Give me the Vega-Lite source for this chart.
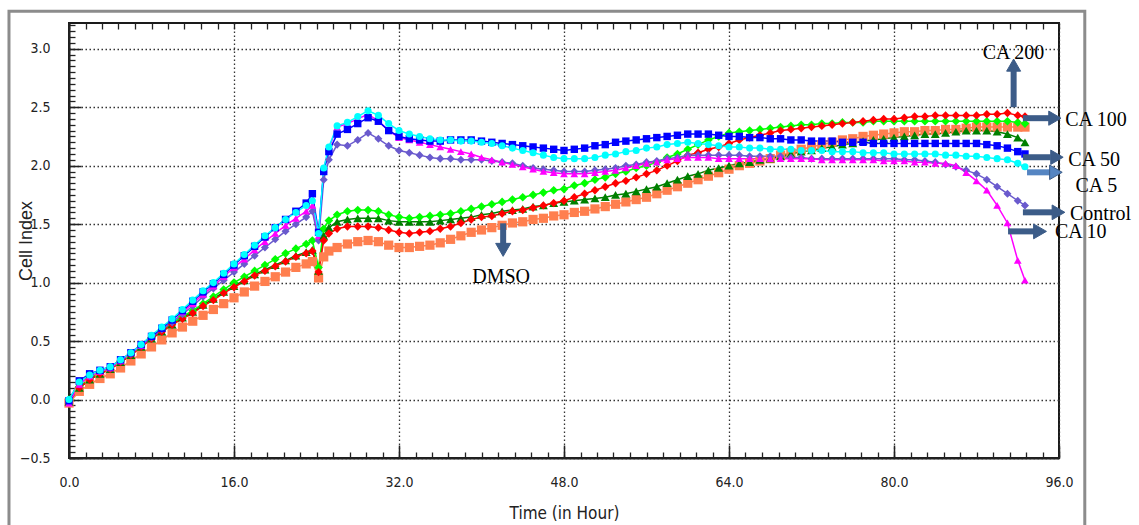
{
  "$schema": "https://vega.github.io/schema/vega-lite/v6.json",
  "width": 990,
  "height": 435,
  "autosize": {"type": "none"},
  "padding": {"left": 69, "top": 23, "right": 80, "bottom": 67},
  "background": "white",
  "config": {
    "view": {"stroke": "#1a1a1a", "strokeWidth": 2},
    "axis": {
      "labelFont": "Liberation Sans Narrow, DejaVu Sans Condensed, Liberation Sans, sans-serif",
      "labelFontSize": 14,
      "labelColor": "#222222",
      "titleColor": "#222222",
      "tickColor": "#222222",
      "domainColor": "#222222",
      "labelFlush": false,
      "labelOverlap": false
    }
  },
  "datasets": {
    "curves": [
      {"t":0,"cyan":0.00,"blue":-0.01,"magenta":-0.03,"slateblue":-0.01,"lime":0.00,"darkgreen":-0.02,"red":-0.01,"orange":-0.03},
      {"t":1,"cyan":0.15,"blue":0.16,"magenta":0.13,"slateblue":0.13,"lime":0.11,"darkgreen":0.10,"red":0.10,"orange":0.07},
      {"t":2,"cyan":0.21,"blue":0.22,"magenta":0.20,"slateblue":0.20,"lime":0.18,"darkgreen":0.17,"red":0.17,"orange":0.13},
      {"t":3,"cyan":0.25,"blue":0.25,"magenta":0.24,"slateblue":0.24,"lime":0.23,"darkgreen":0.22,"red":0.22,"orange":0.18},
      {"t":4,"cyan":0.28,"blue":0.28,"magenta":0.27,"slateblue":0.27,"lime":0.27,"darkgreen":0.26,"red":0.26,"orange":0.22},
      {"t":5,"cyan":0.34,"blue":0.34,"magenta":0.33,"slateblue":0.33,"lime":0.33,"darkgreen":0.32,"red":0.32,"orange":0.27},
      {"t":6,"cyan":0.40,"blue":0.40,"magenta":0.40,"slateblue":0.39,"lime":0.39,"darkgreen":0.38,"red":0.38,"orange":0.33},
      {"t":7,"cyan":0.47,"blue":0.47,"magenta":0.46,"slateblue":0.46,"lime":0.46,"darkgreen":0.45,"red":0.45,"orange":0.39},
      {"t":8,"cyan":0.55,"blue":0.54,"magenta":0.54,"slateblue":0.53,"lime":0.53,"darkgreen":0.52,"red":0.52,"orange":0.45},
      {"t":9,"cyan":0.62,"blue":0.61,"magenta":0.61,"slateblue":0.60,"lime":0.59,"darkgreen":0.58,"red":0.58,"orange":0.51},
      {"t":10,"cyan":0.69,"blue":0.68,"magenta":0.68,"slateblue":0.66,"lime":0.65,"darkgreen":0.64,"red":0.64,"orange":0.57},
      {"t":11,"cyan":0.77,"blue":0.76,"magenta":0.75,"slateblue":0.73,"lime":0.71,"darkgreen":0.70,"red":0.69,"orange":0.62},
      {"t":12,"cyan":0.85,"blue":0.84,"magenta":0.82,"slateblue":0.80,"lime":0.76,"darkgreen":0.75,"red":0.74,"orange":0.67},
      {"t":13,"cyan":0.93,"blue":0.92,"magenta":0.90,"slateblue":0.88,"lime":0.82,"darkgreen":0.81,"red":0.80,"orange":0.72},
      {"t":14,"cyan":1.00,"blue":0.99,"magenta":0.97,"slateblue":0.95,"lime":0.88,"darkgreen":0.86,"red":0.85,"orange":0.77},
      {"t":15,"cyan":1.08,"blue":1.07,"magenta":1.05,"slateblue":1.02,"lime":0.94,"darkgreen":0.92,"red":0.91,"orange":0.82},
      {"t":16,"cyan":1.16,"blue":1.15,"magenta":1.13,"slateblue":1.09,"lime":1.00,"darkgreen":0.97,"red":0.96,"orange":0.87},
      {"t":17,"cyan":1.24,"blue":1.23,"magenta":1.20,"slateblue":1.16,"lime":1.05,"darkgreen":1.02,"red":1.01,"orange":0.92},
      {"t":18,"cyan":1.32,"blue":1.31,"magenta":1.28,"slateblue":1.23,"lime":1.10,"darkgreen":1.07,"red":1.06,"orange":0.97},
      {"t":19,"cyan":1.40,"blue":1.39,"magenta":1.35,"slateblue":1.30,"lime":1.15,"darkgreen":1.11,"red":1.10,"orange":1.01},
      {"t":20,"cyan":1.47,"blue":1.47,"magenta":1.42,"slateblue":1.37,"lime":1.20,"darkgreen":1.15,"red":1.14,"orange":1.05},
      {"t":21,"cyan":1.54,"blue":1.54,"magenta":1.49,"slateblue":1.44,"lime":1.25,"darkgreen":1.19,"red":1.18,"orange":1.09},
      {"t":22,"cyan":1.60,"blue":1.61,"magenta":1.55,"slateblue":1.50,"lime":1.29,"darkgreen":1.23,"red":1.22,"orange":1.13},
      {"t":23,"cyan":1.66,"blue":1.68,"magenta":1.61,"slateblue":1.56,"lime":1.33,"darkgreen":1.26,"red":1.25,"orange":1.16},
      {"t":23.6,"cyan":1.70,"blue":1.76,"magenta":1.66,"slateblue":1.61,"lime":1.36,"darkgreen":1.28,"red":1.27,"orange":1.18},
      {"t":24.2,"cyan":1.42,"blue":1.43,"magenta":1.40,"slateblue":1.36,"lime":1.13,"darkgreen":1.10,"red":1.09,"orange":1.04},
      {"t":24.7,"cyan":1.98,"blue":1.95,"magenta":1.97,"slateblue":1.88,"lime":1.46,"darkgreen":1.40,"red":1.36,"orange":1.22},
      {"t":25.2,"cyan":2.16,"blue":2.12,"magenta":2.15,"slateblue":2.05,"lime":1.53,"darkgreen":1.47,"red":1.42,"orange":1.27},
      {"t":26,"cyan":2.34,"blue":2.27,"magenta":2.33,"slateblue":2.18,"lime":1.58,"darkgreen":1.52,"red":1.46,"orange":1.30},
      {"t":27,"cyan":2.37,"blue":2.31,"magenta":2.36,"slateblue":2.17,"lime":1.61,"darkgreen":1.54,"red":1.48,"orange":1.33},
      {"t":28,"cyan":2.42,"blue":2.36,"magenta":2.40,"slateblue":2.22,"lime":1.62,"darkgreen":1.55,"red":1.48,"orange":1.35},
      {"t":29,"cyan":2.47,"blue":2.41,"magenta":2.44,"slateblue":2.28,"lime":1.62,"darkgreen":1.55,"red":1.48,"orange":1.36},
      {"t":30,"cyan":2.43,"blue":2.38,"magenta":2.38,"slateblue":2.23,"lime":1.61,"darkgreen":1.55,"red":1.47,"orange":1.35},
      {"t":31,"cyan":2.36,"blue":2.30,"magenta":2.30,"slateblue":2.17,"lime":1.58,"darkgreen":1.53,"red":1.45,"orange":1.32},
      {"t":32,"cyan":2.30,"blue":2.25,"magenta":2.24,"slateblue":2.13,"lime":1.56,"darkgreen":1.52,"red":1.43,"orange":1.30},
      {"t":33,"cyan":2.27,"blue":2.23,"magenta":2.22,"slateblue":2.11,"lime":1.55,"darkgreen":1.52,"red":1.42,"orange":1.30},
      {"t":34,"cyan":2.25,"blue":2.22,"magenta":2.20,"slateblue":2.09,"lime":1.56,"darkgreen":1.52,"red":1.43,"orange":1.31},
      {"t":35,"cyan":2.23,"blue":2.21,"magenta":2.18,"slateblue":2.07,"lime":1.57,"darkgreen":1.52,"red":1.44,"orange":1.32},
      {"t":36,"cyan":2.22,"blue":2.21,"magenta":2.16,"slateblue":2.06,"lime":1.58,"darkgreen":1.53,"red":1.46,"orange":1.34},
      {"t":37,"cyan":2.22,"blue":2.22,"magenta":2.14,"slateblue":2.06,"lime":1.59,"darkgreen":1.54,"red":1.48,"orange":1.37},
      {"t":38,"cyan":2.21,"blue":2.22,"magenta":2.12,"slateblue":2.05,"lime":1.61,"darkgreen":1.55,"red":1.51,"orange":1.40},
      {"t":39,"cyan":2.21,"blue":2.22,"magenta":2.10,"slateblue":2.05,"lime":1.63,"darkgreen":1.56,"red":1.54,"orange":1.43},
      {"t":40,"cyan":2.20,"blue":2.21,"magenta":2.07,"slateblue":2.05,"lime":1.65,"darkgreen":1.58,"red":1.56,"orange":1.45},
      {"t":41,"cyan":2.19,"blue":2.20,"magenta":2.05,"slateblue":2.04,"lime":1.67,"darkgreen":1.59,"red":1.57,"orange":1.47},
      {"t":42,"cyan":2.17,"blue":2.19,"magenta":2.03,"slateblue":2.03,"lime":1.69,"darkgreen":1.61,"red":1.59,"orange":1.49},
      {"t":43,"cyan":2.15,"blue":2.18,"magenta":2.01,"slateblue":2.02,"lime":1.71,"darkgreen":1.62,"red":1.61,"orange":1.51},
      {"t":44,"cyan":2.13,"blue":2.17,"magenta":1.99,"slateblue":2.00,"lime":1.73,"darkgreen":1.63,"red":1.62,"orange":1.52},
      {"t":45,"cyan":2.11,"blue":2.16,"magenta":1.97,"slateblue":1.98,"lime":1.75,"darkgreen":1.65,"red":1.64,"orange":1.54},
      {"t":46,"cyan":2.09,"blue":2.15,"magenta":1.95,"slateblue":1.97,"lime":1.77,"darkgreen":1.66,"red":1.66,"orange":1.55},
      {"t":47,"cyan":2.07,"blue":2.14,"magenta":1.94,"slateblue":1.96,"lime":1.79,"darkgreen":1.68,"red":1.68,"orange":1.57},
      {"t":48,"cyan":2.06,"blue":2.13,"magenta":1.93,"slateblue":1.95,"lime":1.80,"darkgreen":1.69,"red":1.70,"orange":1.58},
      {"t":49,"cyan":2.06,"blue":2.14,"magenta":1.93,"slateblue":1.95,"lime":1.83,"darkgreen":1.70,"red":1.73,"orange":1.60},
      {"t":50,"cyan":2.06,"blue":2.15,"magenta":1.93,"slateblue":1.95,"lime":1.85,"darkgreen":1.71,"red":1.76,"orange":1.61},
      {"t":51,"cyan":2.07,"blue":2.17,"magenta":1.94,"slateblue":1.96,"lime":1.88,"darkgreen":1.72,"red":1.79,"orange":1.63},
      {"t":52,"cyan":2.09,"blue":2.18,"magenta":1.95,"slateblue":1.97,"lime":1.90,"darkgreen":1.73,"red":1.82,"orange":1.65},
      {"t":53,"cyan":2.10,"blue":2.20,"magenta":1.96,"slateblue":1.98,"lime":1.93,"darkgreen":1.75,"red":1.85,"orange":1.67},
      {"t":54,"cyan":2.12,"blue":2.21,"magenta":1.98,"slateblue":2.00,"lime":1.95,"darkgreen":1.76,"red":1.87,"orange":1.69},
      {"t":55,"cyan":2.13,"blue":2.22,"magenta":2.00,"slateblue":2.01,"lime":1.98,"darkgreen":1.78,"red":1.90,"orange":1.71},
      {"t":56,"cyan":2.15,"blue":2.23,"magenta":2.02,"slateblue":2.03,"lime":2.00,"darkgreen":1.80,"red":1.93,"orange":1.73},
      {"t":57,"cyan":2.16,"blue":2.24,"magenta":2.03,"slateblue":2.04,"lime":2.03,"darkgreen":1.82,"red":1.96,"orange":1.76},
      {"t":58,"cyan":2.18,"blue":2.25,"magenta":2.05,"slateblue":2.06,"lime":2.07,"darkgreen":1.85,"red":2.00,"orange":1.79},
      {"t":59,"cyan":2.19,"blue":2.26,"magenta":2.06,"slateblue":2.07,"lime":2.10,"darkgreen":1.88,"red":2.04,"orange":1.82},
      {"t":60,"cyan":2.20,"blue":2.27,"magenta":2.07,"slateblue":2.09,"lime":2.14,"darkgreen":1.91,"red":2.09,"orange":1.85},
      {"t":61,"cyan":2.19,"blue":2.27,"magenta":2.07,"slateblue":2.09,"lime":2.18,"darkgreen":1.93,"red":2.11,"orange":1.88},
      {"t":62,"cyan":2.18,"blue":2.27,"magenta":2.07,"slateblue":2.09,"lime":2.22,"darkgreen":1.96,"red":2.14,"orange":1.91},
      {"t":63,"cyan":2.17,"blue":2.26,"magenta":2.06,"slateblue":2.09,"lime":2.25,"darkgreen":1.98,"red":2.16,"orange":1.94},
      {"t":64,"cyan":2.16,"blue":2.25,"magenta":2.06,"slateblue":2.09,"lime":2.28,"darkgreen":2.00,"red":2.19,"orange":1.97},
      {"t":65,"cyan":2.16,"blue":2.25,"magenta":2.06,"slateblue":2.09,"lime":2.29,"darkgreen":2.02,"red":2.22,"orange":2.00},
      {"t":66,"cyan":2.15,"blue":2.24,"magenta":2.06,"slateblue":2.08,"lime":2.30,"darkgreen":2.03,"red":2.24,"orange":2.02},
      {"t":67,"cyan":2.15,"blue":2.24,"magenta":2.06,"slateblue":2.08,"lime":2.31,"darkgreen":2.05,"red":2.26,"orange":2.04},
      {"t":68,"cyan":2.14,"blue":2.23,"magenta":2.06,"slateblue":2.08,"lime":2.32,"darkgreen":2.06,"red":2.28,"orange":2.06},
      {"t":69,"cyan":2.14,"blue":2.23,"magenta":2.06,"slateblue":2.08,"lime":2.33,"darkgreen":2.08,"red":2.30,"orange":2.09},
      {"t":70,"cyan":2.14,"blue":2.22,"magenta":2.06,"slateblue":2.07,"lime":2.34,"darkgreen":2.10,"red":2.31,"orange":2.11},
      {"t":71,"cyan":2.13,"blue":2.22,"magenta":2.06,"slateblue":2.07,"lime":2.35,"darkgreen":2.12,"red":2.32,"orange":2.14},
      {"t":72,"cyan":2.13,"blue":2.21,"magenta":2.06,"slateblue":2.06,"lime":2.35,"darkgreen":2.13,"red":2.33,"orange":2.16},
      {"t":73,"cyan":2.13,"blue":2.21,"magenta":2.05,"slateblue":2.06,"lime":2.36,"darkgreen":2.15,"red":2.34,"orange":2.18},
      {"t":74,"cyan":2.12,"blue":2.21,"magenta":2.05,"slateblue":2.06,"lime":2.36,"darkgreen":2.16,"red":2.35,"orange":2.20},
      {"t":75,"cyan":2.12,"blue":2.20,"magenta":2.05,"slateblue":2.06,"lime":2.37,"darkgreen":2.18,"red":2.36,"orange":2.22},
      {"t":76,"cyan":2.12,"blue":2.20,"magenta":2.05,"slateblue":2.06,"lime":2.37,"darkgreen":2.19,"red":2.37,"orange":2.23},
      {"t":77,"cyan":2.11,"blue":2.20,"magenta":2.05,"slateblue":2.06,"lime":2.37,"darkgreen":2.21,"red":2.38,"orange":2.25},
      {"t":78,"cyan":2.11,"blue":2.19,"magenta":2.05,"slateblue":2.06,"lime":2.38,"darkgreen":2.22,"red":2.39,"orange":2.26},
      {"t":79,"cyan":2.11,"blue":2.19,"magenta":2.04,"slateblue":2.06,"lime":2.38,"darkgreen":2.23,"red":2.40,"orange":2.27},
      {"t":80,"cyan":2.10,"blue":2.19,"magenta":2.04,"slateblue":2.06,"lime":2.38,"darkgreen":2.24,"red":2.40,"orange":2.28},
      {"t":81,"cyan":2.10,"blue":2.19,"magenta":2.04,"slateblue":2.05,"lime":2.38,"darkgreen":2.25,"red":2.41,"orange":2.29},
      {"t":82,"cyan":2.10,"blue":2.19,"magenta":2.03,"slateblue":2.05,"lime":2.38,"darkgreen":2.26,"red":2.42,"orange":2.29},
      {"t":83,"cyan":2.10,"blue":2.19,"magenta":2.03,"slateblue":2.04,"lime":2.38,"darkgreen":2.27,"red":2.42,"orange":2.30},
      {"t":84,"cyan":2.10,"blue":2.19,"magenta":2.02,"slateblue":2.03,"lime":2.38,"darkgreen":2.27,"red":2.43,"orange":2.30},
      {"t":85,"cyan":2.09,"blue":2.19,"magenta":2.02,"slateblue":2.01,"lime":2.38,"darkgreen":2.28,"red":2.43,"orange":2.31},
      {"t":86,"cyan":2.09,"blue":2.19,"magenta":2.00,"slateblue":1.99,"lime":2.38,"darkgreen":2.29,"red":2.43,"orange":2.31},
      {"t":87,"cyan":2.08,"blue":2.19,"magenta":1.94,"slateblue":1.96,"lime":2.38,"darkgreen":2.30,"red":2.43,"orange":2.32},
      {"t":88,"cyan":2.08,"blue":2.19,"magenta":1.87,"slateblue":1.93,"lime":2.38,"darkgreen":2.30,"red":2.43,"orange":2.33},
      {"t":89,"cyan":2.07,"blue":2.18,"magenta":1.79,"slateblue":1.88,"lime":2.38,"darkgreen":2.30,"red":2.44,"orange":2.33},
      {"t":90,"cyan":2.06,"blue":2.17,"magenta":1.66,"slateblue":1.82,"lime":2.38,"darkgreen":2.29,"red":2.44,"orange":2.33},
      {"t":91,"cyan":2.05,"blue":2.15,"magenta":1.51,"slateblue":1.76,"lime":2.38,"darkgreen":2.27,"red":2.45,"orange":2.33},
      {"t":92,"cyan":2.02,"blue":2.12,"magenta":1.19,"slateblue":1.70,"lime":2.37,"darkgreen":2.24,"red":2.43,"orange":2.33},
      {"t":92.7,"cyan":1.99,"blue":2.10,"magenta":1.02,"slateblue":1.66,"lime":2.36,"darkgreen":2.20,"red":2.42,"orange":2.33}
    ],
    "labels": [
      {"label":"CA 200","t":88.6,"v":2.967},
      {"label":"CA 100","t":96.6,"v":2.393},
      {"label":"CA 50","t":96.9,"v":2.046},
      {"label":"CA 5","t":97.6,"v":1.828},
      {"label":"Control","t":97.07,"v":1.588},
      {"label":"CA 10","t":95.6,"v":1.434},
      {"label":"DMSO","t":39.1,"v":1.049}
    ],
    "shafts": [
      {"label":"CA 200","t":91.6,"v":2.50,"t2":91.6,"v2":2.82},
      {"label":"CA 100","t":92.5,"v":2.406,"t2":95.2,"v2":2.406},
      {"label":"CA 50","t":92.5,"v":2.072,"t2":95.2,"v2":2.072},
      {"label":"CA 5","t":92.9,"v":1.943,"t2":95.2,"v2":1.943},
      {"label":"Control","t":92.5,"v":1.601,"t2":95.4,"v2":1.601},
      {"label":"CA 10","t":91.06,"v":1.438,"t2":93.7,"v2":1.438},
      {"label":"DMSO","t":42.1,"v":1.507,"t2":42.1,"v2":1.33}
    ],
    "heads": [
      {"label":"CA 200","t":91.6,"v":2.86,"dir":"up"},
      {"label":"CA 100","t":95.6,"v":2.406,"dir":"right"},
      {"label":"CA 50","t":95.8,"v":2.072,"dir":"right"},
      {"label":"CA 5","t":95.7,"v":1.943,"dir":"right"},
      {"label":"Control","t":95.95,"v":1.601,"dir":"right"},
      {"label":"CA 10","t":94.16,"v":1.438,"dir":"right"},
      {"label":"DMSO","t":42.1,"v":1.28,"dir":"down"}
    ],
    "frame": [
      {"t":-5.82,"t2":98.5,"v":3.32,"v2":-1.12}
    ]
  },
  "resolve": {
    "scale": {"color": "independent", "shape": "independent", "size": "independent"},
    "axis": {"x": "independent", "y": "independent"}
  },
  "layer": [
    {
      "data": {"name": "frame"},
      "mark": {"type": "rect", "fill": null, "stroke": "#8c8c8c", "strokeWidth": 3, "clip": false},
      "encoding": {
        "x": {"field": "t", "type": "quantitative", "scale": {"domain": [0, 96], "nice": false, "zero": false}, "axis": null},
        "x2": {"field": "t2"},
        "y": {"field": "v", "type": "quantitative", "scale": {"domain": [-0.5, 3.22], "nice": false, "zero": false}, "axis": null},
        "y2": {"field": "v2"}
      }
    },
    {
      "data": {"name": "curves"},
      "transform": [{"fold": ["orange", "darkgreen", "lime", "red", "slateblue", "magenta", "blue", "cyan"], "as": ["series", "ci"]}],
      "mark": {"type": "line", "strokeWidth": 1.5},
      "encoding": {
        "x": {"field": "t", "type": "quantitative",
          "scale": {"domain": [0, 96], "nice": false, "zero": false},
          "axis": {"orient": "bottom", "values": [0, 16, 32, 48, 64, 80, 96], "format": ".1f",
            "title": "Time (in Hour)", "titleFont": "Liberation Sans Narrow, DejaVu Sans Condensed, Liberation Sans, sans-serif",
            "titleFontSize": 17, "titleFontWeight": "normal", "titlePadding": 16,
            "labelPadding": 17, "labelDx": -6, "ticks": false, "domain": true, "domainWidth": 2,
            "grid": true, "gridDash": [1.5, 2.5], "gridColor": "#333333", "gridWidth": 1.3}},
        "y": {"field": "ci", "type": "quantitative",
          "scale": {"domain": [-0.5, 3.22], "nice": false, "zero": false},
          "axis": {"orient": "left", "values": [-0.5, 0, 0.5, 1, 1.5, 2, 2.5, 3], "format": ".1f",
            "title": "Cell Index", "titleFont": "Liberation Sans, sans-serif", "titleFontSize": 18, "titleFontWeight": "normal",
            "titlePadding": -16, "labelPadding": 19, "labelDy": -5, "ticks": false, "domain": true, "domainWidth": 2,
            "grid": true, "gridDash": [1.5, 2.5], "gridColor": "#333333", "gridWidth": 1.3}},
        "color": {"field": "series", "type": "nominal",
          "scale": {"domain": ["orange", "darkgreen", "lime", "red", "slateblue", "magenta", "blue", "cyan"],
            "range": ["#ff7f4f", "#008000", "#00ff00", "#ff0000", "#6a5acd", "#ff00ff", "#0000ff", "#00ffff"]},
          "legend": null}
      }
    },
    {
      "data": {"name": "curves"},
      "transform": [{"fold": ["orange", "darkgreen", "lime", "red", "slateblue", "magenta", "blue", "cyan"], "as": ["series", "ci"]}],
      "mark": {"type": "point", "filled": true, "opacity": 1},
      "encoding": {
        "x": {"field": "t", "type": "quantitative",
          "scale": {"domain": [0, 96], "nice": false, "zero": false},
          "axis": {"orient": "bottom", "values": [0,1.6,3.2,4.8,6.4,8,9.6,11.2,12.8,14.4,16,17.6,19.2,20.8,22.4,24,25.6,27.2,28.8,30.4,32,33.6,35.2,36.8,38.4,40,41.6,43.2,44.8,46.4,48,49.6,51.2,52.8,54.4,56,57.6,59.2,60.8,62.4,64,65.6,67.2,68.8,70.4,72,73.6,75.2,76.8,78.4,80,81.6,83.2,84.8,86.4,88,89.6,91.2,92.8,94.4,96],
            "labels": false, "grid": false, "domain": false, "ticks": true, "tickSize": -6, "tickWidth": 1.3, "title": null}},
        "y": {"field": "ci", "type": "quantitative",
          "scale": {"domain": [-0.5, 3.22], "nice": false, "zero": false},
          "axis": {"orient": "left", "values": [-0.5,-0.45,-0.4,-0.35,-0.3,-0.25,-0.2,-0.15,-0.1,-0.05,0,0.05,0.1,0.15,0.2,0.25,0.3,0.35,0.4,0.45,0.5,0.55,0.6,0.65,0.7,0.75,0.8,0.85,0.9,0.95,1,1.05,1.1,1.15,1.2,1.25,1.3,1.35,1.4,1.45,1.5,1.55,1.6,1.65,1.7,1.75,1.8,1.85,1.9,1.95,2,2.05,2.1,2.15,2.2,2.25,2.3,2.35,2.4,2.45,2.5,2.55,2.6,2.65,2.7,2.75,2.8,2.85,2.9,2.95,3,3.05,3.1,3.15,3.2],
            "labels": false, "grid": false, "domain": false, "ticks": true, "tickSize": -6, "tickWidth": 1.3, "title": null}},
        "color": {"field": "series", "type": "nominal",
          "scale": {"domain": ["orange", "darkgreen", "lime", "red", "slateblue", "magenta", "blue", "cyan"],
            "range": ["#ff7f4f", "#008000", "#00ff00", "#ff0000", "#6a5acd", "#ff00ff", "#0000ff", "#00ffff"]},
          "legend": null},
        "shape": {"field": "series", "type": "nominal",
          "scale": {"domain": ["orange", "darkgreen", "lime", "red", "slateblue", "magenta", "blue", "cyan"],
            "range": ["square", "triangle-up", "diamond", "diamond", "diamond", "triangle-up", "square", "circle"]},
          "legend": null},
        "size": {"field": "series", "type": "nominal",
          "scale": {"domain": ["orange", "darkgreen", "lime", "red", "slateblue", "magenta", "blue", "cyan"],
            "range": [85, 50, 48, 36, 44, 40, 60, 40]},
          "legend": null}
      }
    },
    {
      "data": {"name": "labels"},
      "mark": {"type": "text", "font": "Liberation Serif, serif", "fontSize": 20, "align": "left", "baseline": "middle", "color": "#000000"},
      "encoding": {
        "x": {"field": "t", "type": "quantitative", "scale": {"domain": [0, 96], "nice": false, "zero": false},
          "axis": {"orient": "top", "values": [0,1.6,3.2,4.8,6.4,8,9.6,11.2,12.8,14.4,16,17.6,19.2,20.8,22.4,24,25.6,27.2,28.8,30.4,32,33.6,35.2,36.8,38.4,40,41.6,43.2,44.8,46.4,48,49.6,51.2,52.8,54.4,56,57.6,59.2,60.8,62.4,64,65.6,67.2,68.8,70.4,72,73.6,75.2,76.8,78.4,80,81.6,83.2,84.8,86.4,88,89.6,91.2,92.8,94.4,96],
            "labels": false, "grid": false, "domain": false, "ticks": true, "tickSize": -6, "tickWidth": 1.3, "title": null}},
        "y": {"field": "v", "type": "quantitative", "scale": {"domain": [-0.5, 3.22], "nice": false, "zero": false}, "axis": null},
        "text": {"field": "label", "type": "nominal"}
      }
    },
    {
      "data": {"name": "shafts"},
      "mark": {"type": "rule", "strokeWidth": 6, "strokeCap": "butt"},
      "encoding": {
        "x": {"field": "t", "type": "quantitative", "scale": {"domain": [0, 96], "nice": false, "zero": false},
          "axis": {"orient": "bottom", "values": [0, 16, 32, 48, 64, 80, 96], "labels": false, "grid": false, "domain": false, "ticks": true, "tickSize": -13, "tickWidth": 1.5, "title": null}},
        "x2": {"field": "t2"},
        "y": {"field": "v", "type": "quantitative", "scale": {"domain": [-0.5, 3.22], "nice": false, "zero": false},
          "axis": {"orient": "left", "values": [-0.5, 0, 0.5, 1, 1.5, 2, 2.5, 3], "labels": false, "grid": false, "domain": false, "ticks": true, "tickSize": -12, "tickWidth": 1.5, "title": null}},
        "y2": {"field": "v2"},
        "color": {"field": "label", "type": "nominal",
          "scale": {"domain": ["CA 200", "CA 100", "CA 50", "CA 5", "Control", "CA 10", "DMSO"],
            "range": ["#3c5c88", "#3c5c88", "#3c5c88", "#5585c2", "#3c5c88", "#3c5c88", "#3c5c88"]},
          "legend": null}
      }
    },
    {
      "data": {"name": "heads"},
      "mark": {"type": "point", "filled": true, "opacity": 1, "stroke": "#3c5c88", "strokeWidth": 1},
      "encoding": {
        "x": {"field": "t", "type": "quantitative", "scale": {"domain": [0, 96], "nice": false, "zero": false}, "axis": null},
        "y": {"field": "v", "type": "quantitative", "scale": {"domain": [-0.5, 3.22], "nice": false, "zero": false}, "axis": null},
        "shape": {"field": "dir", "type": "nominal",
          "scale": {"domain": ["up", "right", "down"], "range": ["triangle-up", "triangle-right", "triangle-down"]},
          "legend": null},
        "size": {"field": "label", "type": "nominal",
          "scale": {"domain": ["CA 200", "CA 100", "CA 50", "CA 5", "Control", "CA 10", "DMSO"],
            "range": [196, 225, 190, 484, 225, 230, 170]},
          "legend": null},
        "color": {"field": "label", "type": "nominal",
          "scale": {"domain": ["CA 200", "CA 100", "CA 50", "CA 5", "Control", "CA 10", "DMSO"],
            "range": ["#3c5c88", "#3c5c88", "#3c5c88", "#5585c2", "#3c5c88", "#3c5c88", "#3c5c88"]},
          "legend": null}
      }
    }
  ]
}
